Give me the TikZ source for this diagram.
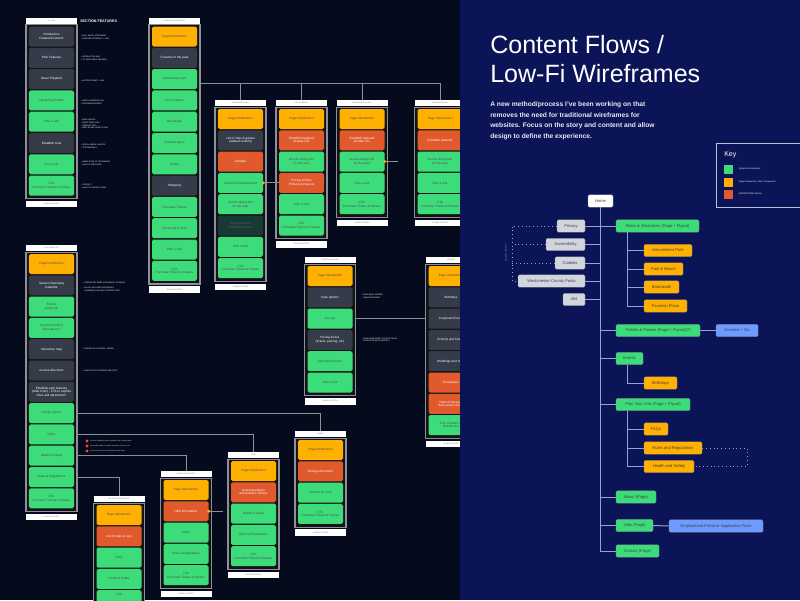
\documentclass[tikz,border=0pt]{standalone}
\usepackage{fontspec}
\setmainfont{Liberation Sans}
\usetikzlibrary{positioning,calc}

\definecolor{nightbg}{HTML}{050A1C}
\definecolor{navybg}{HTML}{0B1456}
\definecolor{qgreen}{HTML}{3DDC7A}
\definecolor{porange}{HTML}{FFB000}
\definecolor{ired}{HTML}{E05A2E}
\definecolor{slate}{HTML}{353B48}
\definecolor{dimteal}{HTML}{173A33}
\definecolor{wire}{HTML}{8B909B}
\definecolor{mapgray}{HTML}{D2D5DC}
\definecolor{linkblue}{HTML}{6E9BFF}
\definecolor{trunk}{HTML}{9AA3C7}
\definecolor{dotyellow}{HTML}{F5B800}

\begin{document}
\begin{tikzpicture}[
    x=0.25mm, y=-0.25mm,
    font=\fontsize{3}{3.6}\selectfont,
    wfhead/.style={fill=white, minimum width=12.75mm, minimum height=1.6mm, inner sep=0pt,
                   text=black!55, font=\fontsize{1.3}{1.5}\selectfont},
    wfframe/.style={draw=wire, line width=0.8pt, fill=black!92, minimum width=12.75mm, inner sep=0pt},
    blk/.style={minimum width=11.25mm, minimum height=5mm, inner sep=0pt, rounded corners=0.4mm,
                align=center, font=\fontsize{2.2}{2.6}\selectfont},
    gblk/.style={blk, fill=qgreen, text=black!70},
    oblk/.style={blk, fill=porange, text=black!70},
    rblk/.style={blk, fill=ired, text=white},
    dblk/.style={blk, fill=slate, text=white},
    tblk/.style={blk, fill=dimteal, text=black!60},
    note/.style={anchor=west, align=left, text=white, inner sep=0pt, font=\fontsize{1.4}{1.9}\selectfont},
    wireline/.style={draw=wire, line width=0.6pt},
    ydot/.style={circle, fill=dotyellow, minimum size=0.8mm, inner sep=0pt},
    rdot/.style={circle, fill=red!75!white, minimum size=0.8mm, inner sep=0pt},
    sbox/.style={rounded corners=0.35mm, minimum height=3.1mm, inner sep=0pt, draw=black!45,
                 line width=0.2pt, text=black!75, font=\fontsize{2.9}{3.4}\selectfont},
    sgreen/.style={sbox, fill=qgreen},
    sorange/.style={sbox, fill=porange},
    sgray/.style={sbox, fill=mapgray},
    sblue/.style={sbox, fill=linkblue},
    keysq/.style={minimum size=2.25mm, inner sep=0pt},
    keytxt/.style={text=white, inner sep=0pt, font=\fontsize{1.6}{2}\selectfont},
    trunkline/.style={draw=trunk, line width=0.7pt},
    dots/.style={draw=trunk, line width=0.7pt, dotted}
]
\useasboundingbox (0,0) rectangle (800,600);
\fill[nightbg] (0,0) rectangle (460,600);

% home
\node[wfhead] (homeH) at (51.5,20.75) {H O M E};
\node[wfframe, minimum height=43.5mm, below=0pt of homeH] (homeF) {};
\foreach \s/\t [count=\i] in {dblk/{Introduction\\Featured Content}, dblk/Park Features,
    dblk/About Playland/History, gblk/Upcoming Events, gblk/Plan a visit, dblk/Establish trust,
    gblk/Find a job, gblk/{CTA\\Purchase Tickets \& Passes}}
  \node[\s] (home\i) at (51.5,{36.5+(\i-1)*21.3}) {\t};
\node[wfhead, below=0.35mm of homeF] (homeFt) {GLOBAL FOOTER};
\node[note, font=\bfseries\fontsize{2.6}{3}\selectfont] (feat) at (80,21) {SECTION FEATURES};
\node[note] at (81,37) {• FULL WIDTH STATEMENT\\• FEATURE STRATEGY + LINK};
\node[note] at (81,58) {• INTERACTIVE MAP\\• 3 X PARK AREA TEASERS};
\node[note] at (81,81) {• HISTORY BRIEF + LINK};
\node[note] at (81,102) {• FEED CALENDAR LINK\\• UPCOMING EVENTS};
\node[note] at (81,124) {• PARK HOURS\\• DIRECTIONS LINK\\• PARKING INFO\\• HEALTH AND SAFETY LINK};
\node[note] at (81,146) {• SOCIAL MEDIA PHOTOS\\• TESTIMONIALS};
\node[note] at (81,163) {• WORK WITH US TEXT/IMAGE\\• LINK TO JOBS PAGE};
\node[note] at (81,186) {• CONTACT\\• LINK TO CONTACT PAGE};

% rides & attractions
\node[wfhead] (rideH) at (174.5,20.75) {RIDES \& ATTRACTIONS};
\node[wfframe, minimum height=64.8mm, below=0pt of rideH] (rideF) {};
\foreach \s/\t [count=\i] in {oblk/Page Introduction, dblk/Features of the park, gblk/Amusement park,
    gblk/Pool \& beach, gblk/Boardwalk, gblk/Fountain plaza, gblk/Dining, dblk/Shopping,
    gblk/Purchase Tickets, gblk/Upcoming Events, gblk/Plan a visit, gblk/{CTA\\Purchase Tickets \& Passes}}
  \node[\s] (ride\i) at (174.5,{36.5+(\i-1)*21.3}) {\t};
\node[wfhead, below=0.35mm of rideF] (rideFt) {GLOBAL FOOTER};

% amusement park
\node[wfhead] (amusH) at (240.5,103.25) {AMUSEMENT PARK};
\node[wfframe, minimum height=43.5mm, below=0pt of amusH] (amusF) {};
\foreach \s/\t [count=\i] in {oblk/Page Introduction, dblk/{List of rides \& games\\(tabbed content)},
    rblk/Arcades, gblk/Events \& Entertainment, gblk/{Access dining info\\for the area},
    tblk/{Pricing \& Pass\\Tickets \& Passes}, gblk/Plan a visit, gblk/{CTA\\Purchase Tickets \& Passes}}
  \node[\s] (amus\i) at (240.5,{119+(\i-1)*21.3}) {\t};
\node[wfhead, below=0.35mm of amusF] (amusFt) {GLOBAL FOOTER};

% pool & beach
\node[wfhead] (poolH) at (301.5,103.25) {POOL \& BEACH};
\node[wfframe, minimum height=32.9mm, below=0pt of poolH] (poolF) {};
\foreach \s/\t [count=\i] in {oblk/Page Introduction, rblk/{Establish featured\\provide info},
    gblk/{Access dining info\\for the area}, rblk/{Pricing \& Pass\\(Tickets \& Passes)},
    gblk/Plan a visit, gblk/{CTA\\Purchase Tickets \& Passes}}
  \node[\s] (pool\i) at (301.5,{119+(\i-1)*21.3}) {\t};
\node[wfhead, below=0.35mm of poolF] (poolFt) {GLOBAL FOOTER};

% boardwalk
\node[wfhead] (boardH) at (362,103.25) {BOARDWALK \& LAKE};
\node[wfframe, minimum height=27.55mm, below=0pt of boardH] (boardF) {};
\foreach \s/\t [count=\i] in {oblk/Page Introduction, rblk/{Establish featured\\provide info},
    gblk/{Access dining info\\for the area}, gblk/Plan a visit, gblk/{CTA\\Purchase Tickets \& Passes}}
  \node[\s] (board\i) at (362,{119+(\i-1)*21.3}) {\t};
\node[wfhead, below=0.35mm of boardF] (boardFt) {GLOBAL FOOTER};

% fountain plaza
\node[wfhead] (fountH) at (440,103.25) {FOUNTAIN PLAZA};
\node[wfframe, minimum height=27.55mm, below=0pt of fountH] (fountF) {};
\foreach \s/\t [count=\i] in {oblk/Page Introduction, rblk/Establish featured/provide info,
    gblk/{Access dining info\\for the area}, gblk/Plan a visit, gblk/{CTA\\Purchase Tickets \& Passes}}
  \node[\s] (fount\i) at (440,{119+(\i-1)*21.3}) {\t};
\node[wfhead, below=0.35mm of fountF] (fountFt) {GLOBAL FOOTER};

\coordinate (ridebus) at (199,83);
\draw[wireline] (ridebus) -| (fountH.north);
\foreach \n in {amus,pool,board}
  \draw[wireline] (\n H.north) -- (\n H.north |- ridebus);
\draw[wireline] (amus4.east) -- (pool4.west);
\node[ydot] (amusdot) at (amus4.east) {};
\coordinate (boardend) at (398,161.6);
\draw[wireline] (board3.east) -- (boardend);
\node[ydot] (boarddot) at (board3.east) {};

% plan your visit
\node[wfhead] (planH) at (51.5,248.25) {PLAN YOUR VISIT};
\node[wfframe, minimum height=64.8mm, below=0pt of planH] (planF) {};
\foreach \s/\t [count=\i] in {oblk/Page Introduction, dblk/{Season Operating\\Calendar},
    gblk/{Events\\QuickLink}, gblk/{Private Planning\\(Groups etc)}, dblk/Interactive map,
    dblk/Access directions, dblk/{Establish park features\\(what to do) - CTA to explore\\rides and attractions?},
    gblk/Dining options, gblk/FAQs, gblk/Health \& Safety, gblk/Rules \& Regulations,
    gblk/{CTA\\Purchase Tickets \& Passes}}
  \node[\s] (plan\i) at (51.5,{264+(\i-1)*21.3}) {\t};
\node[wfhead, below=0.35mm of planF] (planFt) {GLOBAL FOOTER};
\node[note] at (83,283) {• OPERATING TIMES (IN SEASON / CLOSED)};
\node[note] at (83,289.5) {• VALUE: INCLUDES OPERATING\\\ \ CALENDAR LINK (NOT INTERACTIVE)};
\node[note] at (83,349) {• EXPAND IN LIGHTBOX / MODAL};
\node[note] at (83,371) {• LINKS OUT TO GOOGLE MAPS ETC};

% rules & regulations
\node[wfhead] (ruleH) at (119,499.25) {RULES \& REGULATIONS};
\node[wfframe, minimum height=27.55mm, below=0pt of ruleH] (ruleF) {};
\foreach \s/\t [count=\i] in {oblk/Page Introduction, rblk/List of rules \& regs, gblk/FAQs,
    gblk/Health \& Safety}
  \node[\s] (rule\i) at (119,{515+(\i-1)*21.3}) {\t};
\node[gblk, text depth=3mm] (rule5) at (119,600.2) {CTA};

% health and safety
\node[wfhead] (hsH) at (186,474.25) {HEALTH AND SAFETY};
\node[wfframe, minimum height=27.55mm, below=0pt of hsH] (hsF) {};
\foreach \s/\t [count=\i] in {oblk/Page Introduction, rblk/H\&S Information, gblk/FAQs,
    gblk/Rules \& Regulations, gblk/{CTA\\Purchase Tickets \& Passes}}
  \node[\s] (hs\i) at (186,{490+(\i-1)*21.3}) {\t};
\node[wfhead, below=0.35mm of hsF] (hsFt) {GLOBAL FOOTER};
\coordinate (hsend) at (223,511.3);
\draw[wireline] (hs2.east) -- (hsend);
\node[ydot] (hsdot) at (hs2.east) {};

% faqs
\node[wfhead] (faqH) at (253.5,455.25) {FAQS};
\node[wfframe, minimum height=27.55mm, below=0pt of faqH] (faqF) {};
\foreach \s/\t [count=\i] in {oblk/Page Introduction, rblk/{Actual questions\\and answers (FAQs)},
    gblk/Health \& Safety, gblk/Rules \& Regulations, gblk/{CTA\\Purchase Tickets \& Passes}}
  \node[\s] (faq\i) at (253.5,{471+(\i-1)*21.3}) {\t};
\node[wfhead, below=0.35mm of faqF] (faqFt) {GLOBAL FOOTER};

% dining
\node[wfhead] (dineH) at (320.5,434.25) {DINING};
\node[wfframe, minimum height=22.2mm, below=0pt of dineH] (dineF) {};
\foreach \s/\t [count=\i] in {oblk/Page Introduction, rblk/Dining information,
    gblk/Content for park, gblk/{CTA\\Purchase Tickets \& Passes}}
  \node[\s] (dine\i) at (320.5,{450+(\i-1)*21.3}) {\t};
\node[wfhead, below=0.35mm of dineF] (dineFt) {GLOBAL FOOTER};

\draw[wireline] (planF.east |- plan8) -| (dineH.north);
\draw[wireline] (planF.east |- plan9) -| (faqH.north);
\draw[wireline] (planF.east |- plan10) -| (hsH.north);
\draw[wireline] (planF.east |- plan11) -| (ruleH.north);
\foreach \y [count=\i] in {441,446,451}
  \node[rdot] (alert\i) at (87,\y) {};
\node[note, text=white!80, font=\fontsize{1.1}{1.5}\selectfont] at (90,441) {Since we'll definitely want to include this link on these pages};
\node[note, text=white!80, font=\fontsize{1.1}{1.5}\selectfont] at (90,446) {we should consider a reusable component across the site};
\node[note, text=white!80, font=\fontsize{1.1}{1.5}\selectfont] at (90,451) {for the content that is shared between these pages};

% tickets & passes
\node[wfhead] (tickH) at (330,260.25) {TICKETS \& PASSES};
\node[wfframe, minimum height=32.9mm, below=0pt of tickH] (tickF) {};
\foreach \s/\t [count=\i] in {oblk/Page Introduction, dblk/Pass options, gblk/Groups,
    dblk/{Pricing \& fees\\(tickets, parking, etc)}, gblk/Upcoming Events, gblk/Plan a visit}
  \node[\s] (tick\i) at (330,{276+(\i-1)*21.3}) {\t};
\node[wfhead, below=0.35mm of tickF] (tickFt) {GLOBAL FOOTER};
\node[note] at (362,296) {• INDIVIDUAL PASSES\\• SEASON PASSES};
\node[note] at (362,340) {• PURCHASE EVENT TICKETS FROM\\\ \ EVENTS PAGE (IF NEEDED)};

% groups
\node[wfhead] (grpH) at (451,260.25) {GROUPS};
\node[wfframe, minimum height=43.5mm, below=0pt of grpH] (grpF) {};
\foreach \s/\t [count=\i] in {oblk/Page Introduction, dblk/Birthdays, dblk/Corporate Events,
    dblk/Schools and Camps, dblk/Weddings and more, rblk/Fundraisers,
    rblk/{Parts of the park\\that can be rented}, gblk/{CTA: Contact us\\(tickets etc)}}
  \node[\s] (grp\i) at (451,{276+(\i-1)*21.3}) {\t};
\node[wfhead, below=0.35mm of grpF] (grpFt) {GLOBAL FOOTER};
\draw[wireline] (tickF.east |- tick3) -- (grpF.west |- tick3);

% right panel
\fill[navybg] (460,0) rectangle (800,600);
\node[anchor=base west, inner sep=0pt, text=white, font=\fontsize{17.8}{20}\selectfont] (title1) at (490,53) {Content Flows /};
\node[anchor=base west, inner sep=0pt, text=white, font=\fontsize{17.8}{20}\selectfont] (title2) at (490,82) {Low-Fi Wireframes};
\node[anchor=north west, inner sep=0pt, align=left, text=white!92!navybg, font=\bfseries\fontsize{4.75}{7.6}\selectfont] (intro) at (490,101.5)
  {A new method/process I've been working on that\\removes the need for traditional wireframes for\\websites. Focus on the story and content and allow\\design to define the experience.};

% key
\node[draw=trunk!70!white, line width=0.5pt, minimum width=22.5mm, minimum height=16mm, inner sep=0pt, anchor=north west] (keyF) at (716,143) {};
\node[anchor=west, inner sep=0pt, text=white, font=\fontsize{5}{6}\selectfont] (keyT) at (724,155) {Key};
\node[keysq, fill=qgreen] (keyG) at (728.5,169) {};
\node[keysq, fill=porange] (keyO) at (728.5,182) {};
\node[keysq, fill=ired] (keyR) at (728.5,194) {};
\node[keytxt, right=1.3mm of keyG] {Quicklink Component};
\node[keytxt, right=1.3mm of keyO] {Page Introduction / Hero Component};
\node[keytxt, right=1.3mm of keyR] {INTERACTIVE Section};

% sitemap
\node[sbox, fill=white, minimum width=6.25mm] (home) at (600.5,201) {Home};
\node[sgray, minimum width=7mm] (privacy) at (571,226) {Privacy};
\node[sgray, minimum width=9.75mm] (access) at (565.5,244.5) {Accessibility};
\node[sgray, minimum width=7.5mm] (cookies) at (570,263) {Cookies};
\node[sgray, minimum width=16.75mm] (westpark) at (551.5,281) {Westchester County Parks};
\node[sgray, minimum width=5.5mm] (err404) at (574,299.5) {404};
\node[sgreen, minimum width=20.75mm] (rides) at (657.5,226) {Rides \& Attractions (Page + Flyout)};
\node[sorange, minimum width=12mm] (amuse) at (668,250.5) {Amusement Park};
\node[sorange, minimum width=9.75mm] (pool) at (663.5,269) {Pool \& Beach};
\node[sorange, minimum width=8.75mm] (board) at (661.5,287) {Boardwalk};
\node[sorange, minimum width=10.75mm] (fount) at (665.5,306) {Fountain Plaza};
\node[sgreen, minimum width=21mm] (tickets) at (658,330.5) {Tickets \& Passes (Page + Flyout)(?)};
\node[sblue, minimum width=10.5mm] (connect) at (737,330.5) {Connect + Go};
\node[sgreen, minimum width=6.75mm] (events) at (629.5,358.5) {Events};
\node[sorange, minimum width=8.25mm] (bday) at (660.5,383) {Birthdays};
\node[sgreen, minimum width=18.5mm] (visit) at (653,404.5) {Plan Your Visit (Page + Flyout)};
\node[sorange, minimum width=6mm] (faqs) at (656,429) {FAQs};
\node[sorange, minimum width=14.5mm] (rules) at (673,448) {Rules and Regulations};
\node[sorange, minimum width=12.5mm] (health) at (669,466.5) {Health and Safety};
\node[sgreen, minimum width=10mm] (about) at (636,497) {About (Page)};
\node[sgreen, minimum width=9.25mm] (jobs) at (634.5,525.5) {Jobs (Page)};
\node[sblue, minimum width=23.5mm] (employ) at (716,526) {Employment Portal or Application Form};
\node[sgreen, minimum width=10.75mm] (contact) at (637.5,551) {Contact (Page)};

\draw[trunkline] (home.south) |- (contact.west);
\draw[trunkline] (privacy.east) -- (rides.west);
\foreach \n in {access,cookies,westpark,err404}
  \draw[trunkline] (\n.east) -- (\n.east -| home.south);
\foreach \n in {tickets,events,visit,about,jobs}
  \draw[trunkline] (\n.west -| home.south) -- (\n.west);
\draw[trunkline] (tickets.east) -- (connect.west);
\draw[trunkline] (jobs.east) -- (employ.west);
\coordinate (ridesub) at ([xshift=3mm]rides.south west);
\draw[trunkline] (ridesub) |- (fount.west);
\foreach \n in {amuse,pool,board}
  \draw[trunkline] (\n.west) -- (\n.west -| ridesub);
\coordinate (eventsub) at ([xshift=3mm]events.south west);
\draw[trunkline] (eventsub) |- (bday.west);
\coordinate (visitsub) at ([xshift=3mm]visit.south west);
\draw[trunkline] (visitsub) |- (health.west);
\foreach \n in {faqs,rules}
  \draw[trunkline] (\n.west) -- (\n.west -| visitsub);
\coordinate (footbar) at (512,226);
\draw[dots] (privacy.west) -- (footbar) |- (westpark.west);
\foreach \n in {access,cookies}
  \draw[dots] (\n.west) -- (\n.west -| footbar);
\node[rotate=90, inner sep=0pt, text=trunk, font=\fontsize{1.5}{2}\selectfont] (footnote) at (506,253) {ALSO IN FOOTER};
\coordinate (safebar) at (747,448);
\draw[dots] (rules.east) -- (safebar) |- (health.east);
\end{tikzpicture}
\end{document}
